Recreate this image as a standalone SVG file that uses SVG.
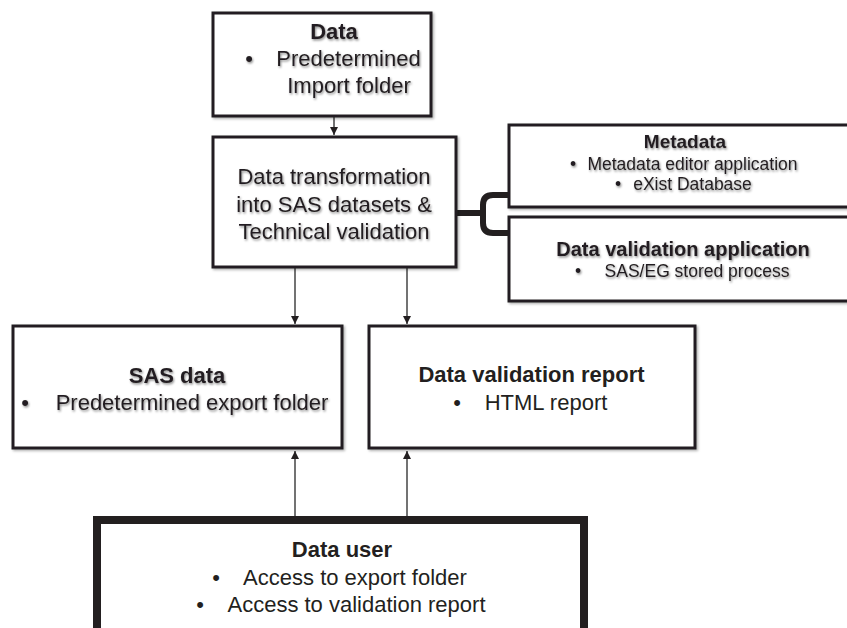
<svg xmlns="http://www.w3.org/2000/svg" width="847" height="628" viewBox="0 0 847 628">
<defs>
<style>
.box{fill:#fff;stroke:#231f20;stroke-width:3}
.t{font-family:"Liberation Sans",Arial,Helvetica,sans-serif;font-size:22px;fill:#231f20;text-anchor:middle}
.b{font-weight:bold}
.s{font-size:17.5px}
.conn{stroke:#444;stroke-width:1.5;fill:none}
</style>
<filter id="bsh" x="-5%" y="-5%" width="115%" height="115%">
<feDropShadow dx="1.5" dy="1.5" stdDeviation="1.2" flood-color="#000" flood-opacity="0.3"/>
</filter>
<filter id="tsh" x="-10%" y="-30%" width="120%" height="160%">
<feDropShadow dx="1" dy="1.5" stdDeviation="1.3" flood-color="#000" flood-opacity="0.45"/>
</filter>
<marker id="arr" markerUnits="userSpaceOnUse" markerWidth="10" markerHeight="10" refX="8" refY="4" orient="auto">
<path d="M0,0 L8,4 L0,8 Z" fill="#231f20"/>
</marker>
</defs>
<rect width="847" height="628" fill="#fff"/>

<g id="connectors">
<line class="conn" x1="334" y1="117" x2="334" y2="135" marker-end="url(#arr)"/>
<line class="conn" x1="295" y1="268" x2="295" y2="324" marker-end="url(#arr)"/>
<line class="conn" x1="407" y1="268" x2="407" y2="324" marker-end="url(#arr)"/>
<line class="conn" x1="295" y1="516" x2="295" y2="451" marker-end="url(#arr)"/>
<line class="conn" x1="407" y1="516" x2="407" y2="451" marker-end="url(#arr)"/>
<path d="M452,213 H483 M510,195 H493 Q483,195 483,205 V223 Q483,233 493,233 H510" fill="none" stroke="#231f20" stroke-width="6" stroke-linecap="round"/>
</g>

<g id="data">
<rect class="box" x="213" y="13" width="218" height="103" filter="url(#bsh)"/>
<g filter="url(#tsh)">
<text class="t b" x="334" y="39">Data</text>
<text class="t" x="249" y="66">•</text>
<text class="t" x="348.5" y="66">Predetermined</text>
<text class="t" x="349" y="93">Import folder</text>
</g>
</g>

<g id="transformation">
<rect class="box" x="213" y="137" width="243" height="130" filter="url(#bsh)"/>
<g filter="url(#tsh)">
<text class="t" x="334" y="184">Data transformation</text>
<text class="t" x="334" y="212">into SAS datasets &amp;</text>
<text class="t" x="334" y="239">Technical validation</text>
</g>
</g>

<g id="metadata">
<rect class="box" x="509" y="125" width="400" height="82" filter="url(#bsh)"/>
<g filter="url(#tsh)">
<text class="t b" x="685" y="148" style="font-size:19px">Metadata</text>
<text class="t s" x="573" y="170">•</text>
<text class="t s" x="692.5" y="170">Metadata editor application</text>
<text class="t s" x="618" y="190">•</text>
<text class="t s" x="692.5" y="190">eXist Database</text>
</g>
</g>

<g id="validation-app">
<rect class="box" x="509" y="217" width="400" height="84" filter="url(#bsh)"/>
<g filter="url(#tsh)">
<text class="t b" x="683" y="256" style="font-size:20px">Data validation application</text>
<text class="t s" x="578" y="277">•</text>
<text class="t s" x="697" y="277">SAS/EG stored process</text>
</g>
</g>

<g id="sas-data">
<rect class="box" x="13" y="326" width="329" height="122" filter="url(#bsh)"/>
<g filter="url(#tsh)">
<text class="t b" x="177" y="383">SAS data</text>
<text class="t" x="25" y="410">•</text>
<text class="t" x="192" y="410">Predetermined export folder</text>
</g>
</g>

<g id="validation-report">
<rect class="box" x="369" y="326" width="326" height="122" filter="url(#bsh)"/>
<text class="t b" x="531.5" y="382">Data validation report</text>
<text class="t" x="457" y="410">•</text>
<text class="t" x="546" y="410">HTML report</text>
</g>

<g id="data-user">
<rect x="97" y="520" width="487" height="140" fill="#fff" stroke="#231f20" stroke-width="8"/>
<text class="t b" x="342" y="557">Data user</text>
<text class="t" x="216" y="585">•</text>
<text class="t" x="355" y="585">Access to export folder</text>
<text class="t" x="200" y="612">•</text>
<text class="t" x="356.5" y="612">Access to validation report</text>
</g>
</svg>
